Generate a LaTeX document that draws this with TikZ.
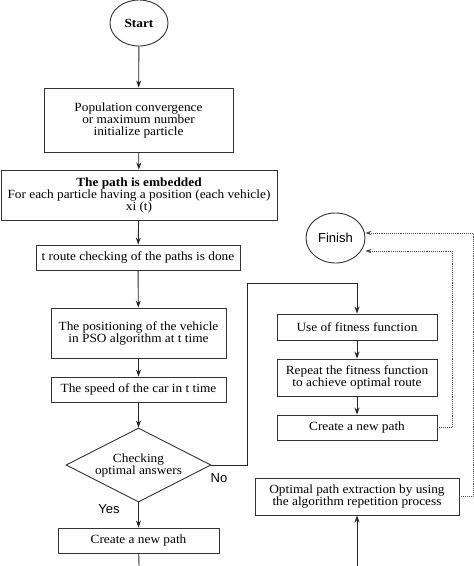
\documentclass[tikz,border=0pt]{standalone}
\usepackage{fontspec}
\setmainfont[FakeStretch=1.065]{Liberation Serif}
\newfontfamily\labsans{Liberation Sans}
\usetikzlibrary{shapes.geometric,arrows.meta}
\tikzset{
  every node/.style={font=\fontsize{12.5}{12}\selectfont, align=center, inner sep=0pt},
  box/.style={draw=black!80, line width=0.9pt, rectangle},
  term/.style={draw=black!80, line width=0.9pt, ellipse},
  dec/.style={draw=black!80, line width=0.9pt, diamond, aspect=2},
  flow/.style={draw=black!85, line width=0.9pt, -{Stealth[length=7pt,width=5pt]}},
  dline/.style={draw=black!70, line width=0.9pt, densely dotted, -{Stealth[length=6pt,width=4.5pt]}},
  sanslab/.style={font=\labsans\fontsize{13}{14}\selectfont}
}
\begin{document}
\begin{tikzpicture}[x=1pt,y=-1pt]
\useasboundingbox (0,0) rectangle (474,566);
\node[term, minimum width=58pt, minimum height=46pt] (start) at (139,23) {\textbf{Start}};
\node[box, minimum width=189pt, minimum height=64pt] (b1) at (138.5,120) {Population convergence\\or maximum number\\initialize particle};
\node[box, minimum width=276pt, minimum height=50pt] (b2) at (139,195) {\textbf{The path is embedded}\\For each particle having a position (each vehicle)\\xi (t)};
\node[box, minimum width=204pt, minimum height=25pt] (b3) at (138,257.5) {t route checking of the paths is done};
\node[box, minimum width=175pt, minimum height=50pt] (b4) at (138.5,333) {The positioning of the vehicle\\in PSO algorithm at t time};
\node[box, minimum width=175pt, minimum height=25pt] (b5) at (138.5,389.5) {The speed of the car in t time};
\node[dec, minimum width=145pt, minimum height=74pt] (d) at (138.5,465) {Checking\\optimal answers};
\node[box, minimum width=161pt, minimum height=25pt] (b6) at (138.5,540.5) {Create a new path};
\node[box, minimum width=160pt, minimum height=26pt] (b7) at (357,327) {Use of fitness function};
\node[box, minimum width=160pt, minimum height=37pt] (b8) at (357,377.5) {Repeat the fitness function\\to achieve optimal route};
\node[box, minimum width=160pt, minimum height=25pt] (b9) at (357,427.5) {Create a new path};
\node[box, minimum width=204pt, minimum height=37pt] (b10) at (357,496.5) {Optimal path extraction by using\\the algorithm repetition process};
\node[term, minimum width=59pt, minimum height=50pt, sanslab] (fin) at (335.5,238) {Finish};
\node[sanslab] (no) at (219,478) {No};
\node[sanslab] (yes) at (109,509) {Yes};
\coordinate (bend1) at (247,465);
\coordinate (bend2) at (247,283);
\coordinate (bend3) at (357,283);
\coordinate (bot1) at (139,566);
\coordinate (bot2) at (357,566);
\coordinate (r1a) at (452,427.5);
\coordinate (r1b) at (452,251);
\coordinate (r2a) at (473,496.5);
\coordinate (r2b) at (473,233);
\draw[flow] (start) -- (b1);
\draw[flow] (b1) -- (b2);
\draw[flow] (b2) -- (b3);
\draw[flow] (b3) -- (b4);
\draw[flow] (b4) -- (b5);
\draw[flow] (b5) -- (d);
\draw[flow] (d) -- (b6);
\draw[draw=black!85, line width=0.9pt] (b6) -- (bot1);
\draw[flow] (d.east) -- (bend1) -- (bend2) -- (bend3) -- (b7);
\draw[flow] (b7) -- (b8);
\draw[flow] (b8) -- (b9);
\draw[flow] (bot2) -- (b10);
\draw[dline] (b9.east) -- (r1a) -- (r1b) -- (fin.east |- r1b);
\draw[dline] (b10.east) -- (r2a) -- (r2b) -- (fin.east |- r2b);
\end{tikzpicture}
\end{document}
